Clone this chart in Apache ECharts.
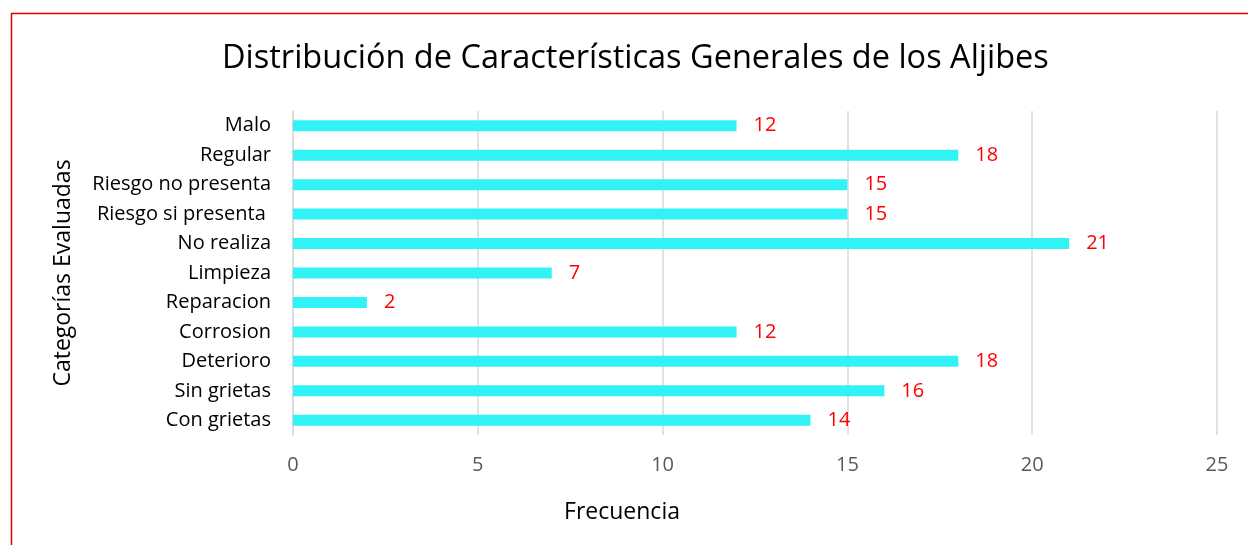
<!DOCTYPE html>
<html>
<head>
<meta charset="utf-8">
<script src="https://cdn.jsdelivr.net/npm/echarts@6/dist/echarts.min.js"></script>
<style>
  html, body { margin: 0; padding: 0; background: #fff; }
  #ec { width: 1248px; height: 545px; }
</style>
</head>
<body>
<div id="ec"></div>
<script>
var categories = ["Malo", "Regular", "Riesgo no presenta", "Riesgo si presenta ", "No realiza",
  "Limpieza", "Reparacion", "Corrosion", "Deterioro", "Sin grietas", "Con grietas"];
var values = [12, 18, 15, 15, 21, 7, 2, 12, 18, 16, 14];
var xTicks = [0, 5, 10, 15, 20, 25];

var font = "Open Sans";
var myChart = echarts.init(document.getElementById("ec"));

myChart.setOption({
  backgroundColor: "#fff",
  animation: false,
  title: {
    text: "Distribución de Características Generales de los Aljibes",
    left: 217,
    top: 37,
    textStyle: { fontFamily: font, fontSize: 32.5, fontWeight: "normal", color: "#000" },
  },
  graphic: [
    { type: "line", shape: { x1: 11, y1: 13.5, x2: 1248, y2: 13.5 }, style: { stroke: "#e00000", lineWidth: 1.5 } },
    { type: "line", shape: { x1: 11.5, y1: 13, x2: 11.5, y2: 545 }, style: { stroke: "#e00000", lineWidth: 1.5 } },
  ],
  grid: { left: 293, right: 31, top: 111, bottom: 110, containLabel: false },
  xAxis: {
    type: "value",
    min: xTicks[0],
    max: xTicks[xTicks.length - 1],
    interval: 5,
    name: "Frecuencia",
    nameLocation: "middle",
    nameGap: 66,
    nameTextStyle: { fontFamily: font, fontSize: 23, color: "#000", padding: [0, 266, 0, 0] },
    axisLine: { show: false },
    axisTick: { show: false },
    axisLabel: { fontFamily: font, fontSize: 20, color: "#595959", margin: 20 },
    splitLine: { lineStyle: { color: "#d9d9d9", width: 1.5 } },
  },
  yAxis: {
    type: "category",
    inverse: true,
    data: categories,
    name: "Categorías Evaluadas",
    nameLocation: "middle",
    nameGap: 218,
    nameRotate: 90,
    nameTextStyle: { fontFamily: font, fontSize: 23, color: "#000" },
    axisLine: { show: true, lineStyle: { color: "#d9d9d9", width: 1.5 } },
    axisTick: { show: false },
    axisLabel: { fontFamily: font, fontSize: 20, color: "#000", margin: 22 },
  },
  series: [
    {
      type: "bar",
      data: values,
      barWidth: 11,
      itemStyle: { color: "#31f3f6" },
      label: {
        show: true,
        position: "right",
        distance: 17,
        fontFamily: font,
        fontSize: 20,
        color: "#ff0000",
      },
    },
  ],
});
</script>
</body>
</html>
